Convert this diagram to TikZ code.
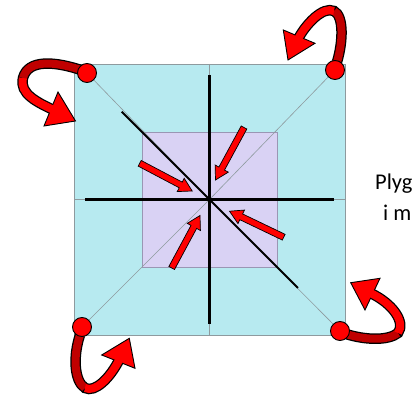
\documentclass[tikz,border=0pt]{standalone}
\usepackage{fontspec}
\setmainfont{Carlito}
\usetikzlibrary{calc}
\definecolor{outerc}{HTML}{B7EAF0}
\definecolor{innerc}{HTML}{D9D2F4}
\definecolor{redc}{HTML}{FF0000}
\definecolor{darkredc}{HTML}{C00000}
\definecolor{edgec}{HTML}{8E9A9E}
\definecolor{inneredge}{HTML}{9A96B4}
\tikzset{
  corner/.style={circle, fill=redc, draw=black, line width=0.9pt, minimum size=19pt, inner sep=0pt},
  ribbonout/.style={black, line width=10.5pt},
  ribbonback/.style={darkredc, line width=8pt},
  ribbonfront/.style={redc, line width=8pt},
  headstyle/.style={fill=redc, draw=black, line width=0.9pt, line join=miter},
  thinline/.style={edgec, line width=0.7pt},
  axisline/.style={black, line width=2.3pt},
  txtlabel/.style={inner sep=0pt, font=\fontsize{22.5}{27}\selectfont, anchor=base west},
}
% straight block arrow: #1 tail, #2 tip
\newcommand\blockarr[2]{%
  \coordinate (ba-h) at ($(#2)!13pt!(#1)$);
  \filldraw[headstyle, line width=0.7pt]
    ($(#1)!3.2pt!90:(#2)$) -- ($(ba-h)!3.2pt!90:(#2)$) -- ($(ba-h)!7.5pt!90:(#2)$)
    -- (#2) -- ($(ba-h)!7.5pt!-90:(#2)$) -- ($(ba-h)!3.2pt!-90:(#2)$)
    -- ($(#1)!3.2pt!-90:(#2)$) -- cycle;
}
\begin{document}
\begin{tikzpicture}[x=1pt,y=-1pt]
\useasboundingbox (0,0) rectangle (416,395);
% squares
\fill[outerc] (74,64) rectangle (345,335);
\draw[edgec, line width=0.9pt] (74,64) rectangle (345,335);
\coordinate (c) at (209.5,199.5);
% quadrant lines
\draw[thinline] (209.5,64) -- (209.5,335);
\draw[thinline] (74,199.5) -- (345,199.5);
\filldraw[fill=innerc, draw=inneredge, line width=0.9pt] (142,132) rectangle (277,267);
% corner points
\coordinate (tlc) at (87,73);
\coordinate (trc) at (335,70);
\coordinate (blc) at (82,327);
\coordinate (brc) at (340,331);
\draw[thinline, line width=0.6pt] (tlc) -- (c) (trc) -- (c) (blc) -- (c) (brc) -- (c);
% axis lines
\coordinate (vt) at (209.5,75);  \coordinate (vb) at (209.5,324);
\coordinate (hl) at (85,199.5);  \coordinate (hr) at (334,199.5);
\coordinate (dt) at (121.7,111.7); \coordinate (db) at (298,288);
\draw[axisline] (vt) -- (vb);
\draw[axisline] (hl) -- (hr);
\draw[axisline, line width=2pt] (dt) -- (db);
% inner red arrows
\coordinate (a1t) at (244,127.5);   \coordinate (a1h) at (215.5,180);
\coordinate (a2t) at (139.7,163.3); \coordinate (a2h) at (192.2,191);
\coordinate (a3t) at (283.7,237.2); \coordinate (a3h) at (229.5,211.2);
\coordinate (a4t) at (171.7,268);   \coordinate (a4h) at (200,215.5);
\blockarr{a1t}{a1h}
\blockarr{a2t}{a2h}
\blockarr{a3t}{a3h}
\blockarr{a4t}{a4h}
% curved arrows: top-left
\draw[ribbonout] (84,71) .. controls (55,61) and (28,59) .. (23,78) .. controls (19,94) and (38,102.5) .. (53.5,110);
\filldraw[headstyle] (44,126) -- (58,92) -- (75.5,121) -- cycle;
\draw[ribbonback] (84,71) .. controls (55,61) and (28,59) .. (23,78);
\draw[ribbonfront] (23,78) .. controls (19,94) and (38,102.5) .. (53.5,110);
% top-right
\draw[ribbonout] (337,62) .. controls (343,42) and (344,16) .. (334,11) .. controls (323,6) and (306,24) .. (298.3,38.5);
\filldraw[headstyle] (283.3,30) -- (315,43.3) -- (288,60) -- cycle;
\draw[ribbonback] (337,62) .. controls (343,42) and (344,16) .. (334,11);
\draw[ribbonfront] (334,11) .. controls (323,6) and (306,24) .. (298.3,38.5);
% bottom-left
\draw[ribbonout] (80,335) .. controls (73,356) and (74,381) .. (85,388) .. controls (95,393) and (110,378) .. (119.2,359.9);
\filldraw[headstyle] (101.7,355) -- (135,368.3) -- (129.3,338.3) -- cycle;
\draw[ribbonback] (80,335) .. controls (73,356) and (74,381) .. (85,388);
\draw[ribbonfront] (85,388) .. controls (95,393) and (110,378) .. (119.2,359.9);
% bottom-right
\draw[ribbonout] (346,334) .. controls (365,340) and (388,341) .. (398,333) .. controls (406,322) and (392,303) .. (370.7,293.2);
\filldraw[headstyle] (380,278.3) -- (365,310) -- (350.7,282.7) -- cycle;
\draw[ribbonback] (346,334) .. controls (365,340) and (388,341) .. (398,333);
\draw[ribbonfront] (398,333) .. controls (406,322) and (392,303) .. (370.7,293.2);
% corner circles
\node[corner] (tl) at (tlc) {};
\node[corner] (tr) at (trc) {};
\node[corner] (bl) at (blc) {};
\node[corner] (br) at (brc) {};
% text
\node[txtlabel] (t1) at (375,190) {Plyg};
\node[txtlabel] (t2) at (383,221) {i m};
\end{tikzpicture}
\end{document}
